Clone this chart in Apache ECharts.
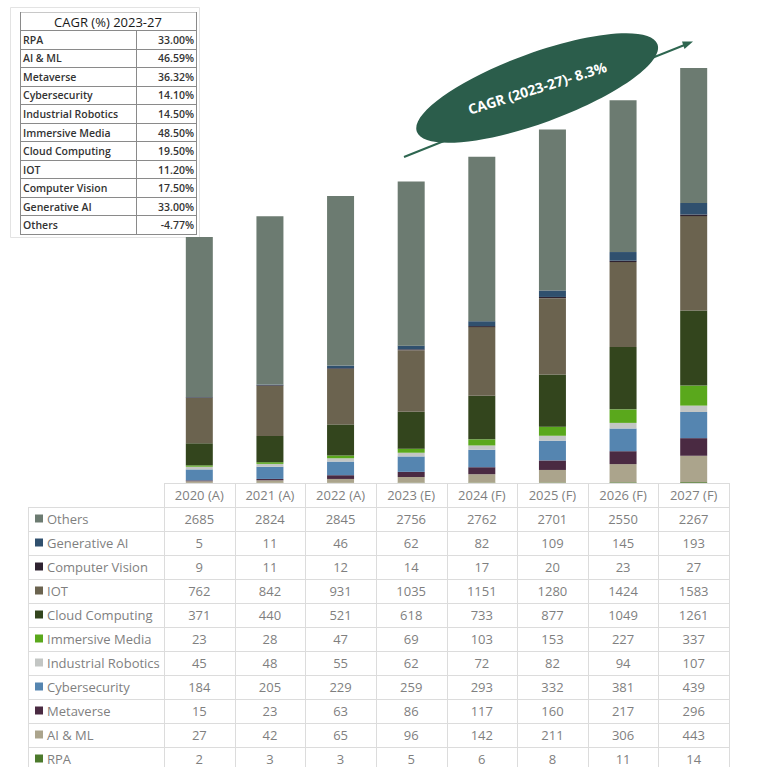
<!DOCTYPE html>
<html>
<head>
<meta charset="utf-8">
<title>Technology market size 2020-2027</title>
<script src="https://cdn.jsdelivr.net/npm/echarts@6/dist/echarts.min.js"></script>
<style>
  html, body { margin: 0; padding: 0; background: #ffffff; }
  #chart { width: 777px; height: 767px; }
</style>
</head>
<body>
<div id="chart"></div>
<script>
// Years shown on the category axis and in the data table header
const years = ['2020 (A)', '2021 (A)', '2022 (A)', '2023 (E)', '2024 (F)', '2025 (F)', '2026 (F)', '2027 (F)'];

// Segment values per year (stacked bottom to top in this order)
const rpa                = [2, 3, 3, 5, 6, 8, 11, 14];
const aiMl               = [27, 42, 65, 96, 142, 211, 306, 443];
const metaverse          = [15, 23, 63, 86, 117, 160, 217, 296];
const cybersecurity      = [184, 205, 229, 259, 293, 332, 381, 439];
const industrialRobotics = [45, 48, 55, 62, 72, 82, 94, 107];
const immersiveMedia     = [23, 28, 47, 69, 103, 153, 227, 337];
const cloudComputing     = [371, 440, 521, 618, 733, 877, 1049, 1261];
const iot                = [762, 842, 931, 1035, 1151, 1280, 1424, 1583];
const computerVision     = [9, 11, 12, 14, 17, 20, 23, 27];
const generativeAI       = [5, 11, 46, 62, 82, 109, 145, 193];
const others             = [2685, 2824, 2845, 2756, 2762, 2701, 2550, 2267];

// Growth-rate summary table
const cagrTitle  = 'CAGR (%) 2023-27';
const cagrLabels = ['RPA', 'AI & ML', 'Metaverse', 'Cybersecurity', 'Industrial Robotics', 'Immersive Media',
                    'Cloud Computing', 'IOT', 'Computer Vision', 'Generative AI', 'Others'];
const cagrValues = ['33.00%', '46.59%', '36.32%', '14.10%', '14.50%', '48.50%',
                    '19.50%', '11.20%', '17.50%', '33.00%', '-4.77%'];
const overallCagrText = 'CAGR (2023-27)- 8.3%';

// Series definitions (bottom of stack first)
const segments = [
  { name: 'RPA',                 data: rpa,                color: '#4c7a2c' },
  { name: 'AI & ML',             data: aiMl,               color: '#aba48c' },
  { name: 'Metaverse',           data: metaverse,          color: '#4a2a42' },
  { name: 'Cybersecurity',       data: cybersecurity,      color: '#5585b0' },
  { name: 'Industrial Robotics', data: industrialRobotics, color: '#c3c6c4' },
  { name: 'Immersive Media',     data: immersiveMedia,     color: '#5aa81c' },
  { name: 'Cloud Computing',     data: cloudComputing,     color: '#33451d' },
  { name: 'IOT',                 data: iot,                color: '#6b634f' },
  { name: 'Computer Vision',     data: computerVision,     color: '#2e2230' },
  { name: 'Generative AI',       data: generativeAI,       color: '#30506e' },
  { name: 'Others',              data: others,             color: '#6c7b71' }
];

// Layout of plot area and data table
const W = 777, H = 767;
const gridLeft = 164, gridRight = 729, baseY = 483;
const colW = (gridRight - gridLeft) / years.length;
const rowH = 24, labelLeft = 28;
const tableFont = '13px "Open Sans"';
const tableColor = '#7f7f7f';
const gridLine = '#dcdcdc';

const graphics = [];

function hLine(x1, x2, y, color, w) {
  graphics.push({ type: 'line', silent: true, z: 5,
    shape: { x1: x1, y1: y, x2: x2, y2: y },
    style: { stroke: color, lineWidth: w || 1 } });
}
function vLine(x, y1, y2, color, w) {
  graphics.push({ type: 'line', silent: true, z: 5,
    shape: { x1: x, y1: y1, x2: x, y2: y2 },
    style: { stroke: color, lineWidth: w || 1 } });
}
function text(str, x, y, font, color, align, extra) {
  graphics.push(Object.assign({ type: 'text', silent: true, z: 10,
    style: { text: str, x: x, y: y, font: font, fill: color,
             align: align, textAlign: align, verticalAlign: 'middle', textVerticalAlign: 'middle' } }, extra || {}));
}

// ---- data table under the bars ----
const rowsTopDown = segments.slice().reverse();
const tableBottom = baseY + rowH * (rowsTopDown.length + 1);
hLine(gridLeft, gridRight, baseY + 0.5, gridLine);
for (let r = 1; r <= rowsTopDown.length + 1; r++) {
  hLine(labelLeft, gridRight, baseY + r * rowH + 0.5, gridLine);
}
vLine(labelLeft + 0.5, baseY + rowH, tableBottom, gridLine);
for (let c = 0; c <= years.length; c++) {
  vLine(Math.round(gridLeft + c * colW) + 0.5, baseY, tableBottom, gridLine);
}
years.forEach(function (y, c) {
  text(y, gridLeft + (c + 0.5) * colW, baseY + rowH / 2, tableFont, tableColor, 'center');
});
rowsTopDown.forEach(function (s, r) {
  const cy = baseY + (r + 1.5) * rowH - 0.5;
  graphics.push({ type: 'rect', silent: true, z: 10,
    shape: { x: 35, y: cy - 4, width: 8, height: 8 }, style: { fill: s.color } });
  text(s.name, 47, cy, tableFont, tableColor, 'left');
  s.data.forEach(function (v, c) {
    text(String(v), gridLeft + (c + 0.5) * colW, cy, tableFont, tableColor, 'center');
  });
});

// ---- CAGR summary table (top left) ----
const ctLeft = 20, ctRight = 196, ctSep = 136, ctTop = 12, ctHead = 30, ctBottom = 234;
const ctRowH = (ctBottom - ctHead) / cagrLabels.length;
const ctLine = '#8a8a8a';
graphics.push({ type: 'rect', silent: true, z: 1,
  shape: { x: 10.5, y: 7.5, width: 189, height: 230 },
  style: { fill: '#ffffff', stroke: '#e3e3e3', lineWidth: 1 } });
hLine(ctLeft, ctRight, ctTop + 0.5, '#c8c8c8');
vLine(ctLeft + 0.5, ctTop, ctBottom, ctLine);
vLine(ctRight + 0.5, ctTop, ctBottom, ctLine);
vLine(ctSep + 0.5, ctHead, ctBottom, ctLine);
for (let r = 0; r <= cagrLabels.length; r++) {
  hLine(ctLeft, ctRight + 1, Math.round(ctHead + r * ctRowH) + 0.5, ctLine);
}
text(cagrTitle, (ctLeft + ctRight) / 2, (ctTop + ctHead) / 2 + 1, '13px "Open Sans"', '#1a1a1a', 'center');
cagrLabels.forEach(function (lab, r) {
  const cy = ctHead + (r + 0.5) * ctRowH + 0.5;
  text(lab, ctLeft + 3, cy, '600 10.5px "Open Sans"', '#333333', 'left');
  text(cagrValues[r], ctRight - 2, cy, '600 10.5px "Open Sans"', '#333333', 'right');
});

// ---- overall growth callout: arrow + tilted ellipse ----
const arrowColor = '#2e6650';
graphics.push({ type: 'line', silent: true, z: 20,
  shape: { x1: 404, y1: 157, x2: 687, y2: 44 },
  style: { stroke: arrowColor, lineWidth: 2 } });
graphics.push({ type: 'polygon', silent: true, z: 20,
  shape: { points: [[693, 41.5], [684.5, 49], [682, 41.5]] },
  style: { fill: arrowColor } });
graphics.push({ type: 'ellipse', silent: true, z: 21,
  shape: { cx: 537, cy: 88, rx: 128, ry: 35 },
  rotation: 20 * Math.PI / 180, originX: 537, originY: 88,
  style: { fill: '#2b5d4b' } });
text(overallCagrText, 537, 88, 'bold 14px "Open Sans"', '#ffffff', 'center',
  { z: 22, rotation: 17.5 * Math.PI / 180, originX: 537, originY: 88 });

const chart = echarts.init(document.getElementById('chart'), null, { renderer: 'svg', width: W, height: H });
chart.setOption({
  animation: false,
  backgroundColor: '#ffffff',
  grid: { left: gridLeft, right: W - gridRight, top: 66, bottom: H - baseY, containLabel: false },
  xAxis: {
    type: 'category', data: years, boundaryGap: true,
    axisLine: { show: false }, axisTick: { show: false }, axisLabel: { show: false }
  },
  yAxis: {
    type: 'value', min: 0, max: 7000, show: false, splitLine: { show: false }
  },
  series: segments.map(function (s) {
    return {
      name: s.name, type: 'bar', stack: 'total', data: s.data, barWidth: 27,
      itemStyle: { color: s.color }, emphasis: { disabled: true }
    };
  }),
  graphic: { elements: graphics }
});
</script>
</body>
</html>
